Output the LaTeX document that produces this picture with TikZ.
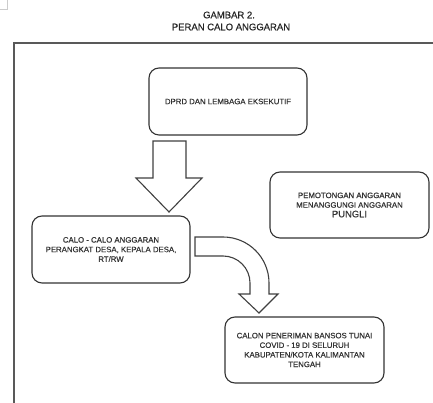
\documentclass[tikz,border=0pt]{standalone}
\usepackage{fontspec}
\setmainfont{Liberation Sans}[FakeBold=0.6]
\newfontfamily\medfont{Liberation Sans}[FakeBold=0.6]
\begin{document}
\begin{tikzpicture}[x=1pt,y=1pt,
  box/.style={draw=black!80, line width=1.1pt, rounded corners=10pt, minimum width=158pt, minimum height=67pt, align=center, inner sep=2pt, text=black!80, font=\medfont\fontsize{7.8}{9.6}\selectfont},
  bigarrow/.style={draw=black!75, line width=1.1pt, fill=white, line join=miter},
  frame/.style={draw=black!65, line width=1.4pt},
  ttl/.style={text=black!85, font=\medfont\fontsize{9.5}{11.7}\selectfont, inner sep=0pt}]
\useasboundingbox (0,0) rectangle (433,403);
\draw[black!20, line width=0.6pt] (7,403) -- (7,394) -- (0,394);
\draw[frame] (433,360) -- (14,360) -- (14,0);
\node[ttl] (t1) at (229,388) {GAMBAR 2.};
\node[ttl] (t2) at (231,376) {PERAN CALO ANGGARAN};
\node[box] (dprd) at (228,301.5) {DPRD DAN LEMBAGA EKSEKUTIF};
\node[box] (calo) at (111,153.5) {CALO - CALO ANGGARAN\\PERANGKAT DESA, KEPALA DESA,\\RT/RW};
\node[box, minimum width=159pt, minimum height=66pt] (pungli) at (349.5,198) {PEMOTONGAN ANGGARAN\\MENANGGUNGI ANGGARAN\\{\fontsize{9.4}{11}\selectfont PUNGLI}};
\node[box, minimum width=159pt, minimum height=66pt] (calon) at (304.5,53) {CALON PENERIMAN BANSOS TUNAI\\COVID - 19 DI SELURUH\\KABUPATEN/KOTA KALIMANTAN\\TENGAH};
\draw[bigarrow] (153,262) -- (186,262) -- (186,225) -- (202,225) -- (169,191) -- (136,225) -- (153,225) -- cycle;
\draw[bigarrow] (195,166) -- (223,166) arc[start angle=90,end angle=0,radius=46pt] -- (269,109) -- (278,109) -- (259,90) -- (239,109) -- (250,109) -- (250,120) arc[start angle=0,end angle=90,radius=27pt] -- (195,147) -- cycle;
\end{tikzpicture}
\end{document}
